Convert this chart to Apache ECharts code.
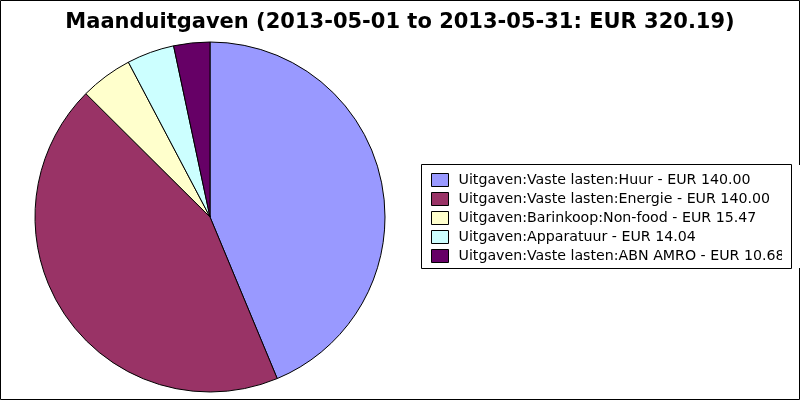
<!DOCTYPE html>
<html><head><meta charset="utf-8">
<script src="https://cdn.jsdelivr.net/npm/echarts@6/dist/echarts.min.js"></script>
<style>html,body{margin:0;padding:0;background:#fff}#c{width:800px;height:400px}</style>
</head><body><div id="c"></div>
<script>
const categories = ["Uitgaven:Vaste lasten:Huur","Uitgaven:Vaste lasten:Energie","Uitgaven:Barinkoop:Non-food","Uitgaven:Apparatuur","Uitgaven:Vaste lasten:ABN AMRO"];
const values = [140.00, 140.00, 15.47, 14.04, 10.68];
const colors = ["#9999ff","#993366","#ffffcc","#ccffff","#660066"];
const titleText = "Maanduitgaven (2013-05-01 to 2013-05-31: EUR 320.19)";

const chart = echarts.init(document.getElementById('c'), null, {renderer:'canvas'});
const valueMap = {};
categories.forEach((c,i)=>valueMap[c]=values[i]);
chart.setOption({
  animation:false,
  backgroundColor:'#fff',
  color: colors,
  title:{text:titleText,left:'center',top:7,textStyle:{fontFamily:'DejaVu Sans',fontWeight:'bold',fontSize:21,color:'#000'}},
  legend:{
    orient:'vertical', left:421, top:164,
    padding:[9,3,9,10],
    itemWidth:17, itemHeight:13, itemGap:5,
    icon:'rect',
    itemStyle:{borderColor:'#000',borderWidth:1},
    textStyle:{fontFamily:'DejaVu Sans',fontSize:14.2,color:'#000',padding:[0,0,0,5]},
    formatter: n => n + ' - EUR ' + valueMap[n].toFixed(2),
    selectedMode:false,
    data: categories
  },
  graphic:[
    {type:'rect',shape:{x:0.5,y:0.5,width:799,height:399},style:{fill:'none',stroke:'#000',lineWidth:1},silent:true},
    {type:'rect',shape:{x:782,y:165,width:20,height:103},style:{fill:'#fff'},silent:true,z:99},
    {type:'rect',shape:{x:421.5,y:164.5,width:370,height:104},style:{fill:'none',stroke:'#000',lineWidth:1},silent:true,z:100}
  ],
  series:[{
    type:'pie', center:[210,217], radius:175, startAngle:90, clockwise:true,
    label:{show:false}, labelLine:{show:false},
    itemStyle:{borderColor:'#000',borderWidth:1},
    emphasis:{disabled:true},
    data: categories.map((c,i)=>({name:c,value:values[i]}))
  }]
});
</script></body></html>
